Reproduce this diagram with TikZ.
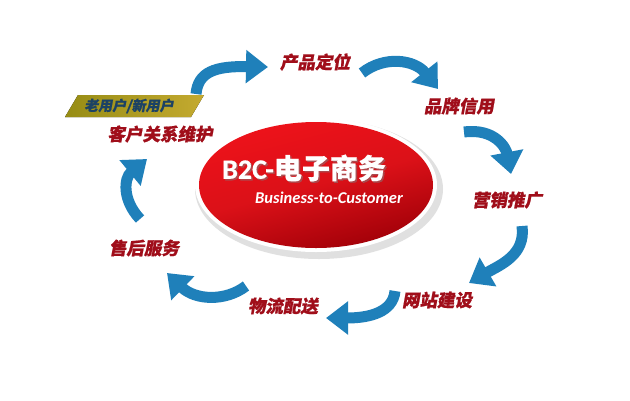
\documentclass[tikz,border=0pt]{standalone}
\usepackage{fontspec}
\usetikzlibrary{arrows.meta,shapes.geometric}
\newfontfamily\cjk{Noto Sans CJK SC}[FakeSlant=0.18, BoldFeatures={FakeBold=0.8}]
\newfontfamily\cjkup{Noto Sans CJK SC}[BoldFeatures={FakeBold=0.6}]
\newfontfamily\lat{Carlito}[BoldFeatures={FakeBold=0.6}]
\definecolor{arrowblue}{RGB}{31,128,186}
\definecolor{labelred}{RGB}{160,14,26}
\definecolor{bannertext}{RGB}{28,66,100}
\definecolor{ellred}{RGB}{238,18,26}
\definecolor{elldark}{RGB}{160,0,8}
\definecolor{olivel}{RGB}{150,140,20}
\definecolor{oliver}{RGB}{196,170,48}
\tikzset{
  flowarrow/.style={draw=arrowblue, line width=11pt, -{Triangle[width=32pt,length=22pt]}},
  steplabel/.style={text=labelred, font=\cjk\bfseries\fontsize{17.5}{20}\selectfont, inner sep=0pt},
}
\begin{document}
\begin{tikzpicture}[x=1pt,y=-1pt]
\useasboundingbox (0,0) rectangle (630,400);
\fill[white] (0,0) rectangle (630,400);
% central ellipse
\fill[black!20, opacity=0.6] (319,189) ellipse [x radius=124, y radius=70];
\fill[white] (316,185) ellipse [x radius=121, y radius=67];
\shade[top color=ellred, bottom color=elldark, middle color=ellred!92!black, shading angle=15] (316,185) ellipse [x radius=117, y radius=63];
\node[coordinate] (center) at (316,185) {};
\node[text=black!50, opacity=0.5, font=\lat\bfseries\fontsize{28}{32}\selectfont, inner sep=0pt, anchor=west] (titleshadow) at (223.5,169.5) {B2C-{\cjkup\bfseries 电子商务}};
\node[text=white, font=\lat\bfseries\fontsize{28}{32}\selectfont, inner sep=0pt, anchor=west] (title) at (222,168) {B2C-{\cjkup\bfseries 电子商务}};
\node[text=white, font=\lat\bfseries\itshape\fontsize{16.5}{19}\selectfont, inner sep=0pt, anchor=west] (sub) at (255,198) {Business-to-Customer};
% banner
\fill[left color=olivel, right color=oliver] (65,117) -- (78,95) -- (204,95) -- (191,117) -- cycle;
\node[text=bannertext, font=\cjk\bfseries\fontsize{14}{16}\selectfont, inner sep=0pt] (banner) at (129,106) {老用户/新用户};
% labels
\node[steplabel] (p1) at (315,62) {产品定位};
\node[steplabel] (p2) at (459,106) {品牌信用};
\node[steplabel] (p3) at (507,200) {营销推广};
\node[steplabel] (p4) at (437,300) {网站建设};
\node[steplabel] (p5) at (283,306) {物流配送};
\node[steplabel] (p6) at (144,248) {售后服务};
\node[steplabel] (p7) at (160,134) {客户关系维护};
% arrow coordinates
\coordinate (a1s) at (196,94);  \coordinate (a1e) at (268,67);
\coordinate (a2s) at (362,73);  \coordinate (a2e) at (438,89);
\coordinate (a3s) at (464,132); \coordinate (a3e) at (511,174);
\coordinate (a4s) at (522,226); \coordinate (a4e) at (469,283);
\coordinate (a5s) at (395,291); \coordinate (a5e) at (326,318);
\coordinate (a6s) at (246,286); \coordinate (a6e) at (167,273);
\coordinate (a7s) at (140,219); \coordinate (a7e) at (147,159);
\draw[flowarrow] (a1s) .. controls (198,72) and (215,66) .. (a1e);
\draw[flowarrow] (a2s) .. controls (385,55) and (415,60) .. (a2e);
\draw[flowarrow] (a3s) .. controls (495,128) and (506,148) .. (a3e);
\draw[flowarrow] (a4s) .. controls (526,255) and (500,265) .. (a4e);
\draw[flowarrow] (a5s) .. controls (393,312) and (370,318) .. (a5e);
\draw[flowarrow] (a6s) .. controls (225,302) and (195,300) .. (a6e);
\draw[flowarrow] (a7s) .. controls (122,200) and (124,178) .. (a7e);
\end{tikzpicture}
\end{document}
